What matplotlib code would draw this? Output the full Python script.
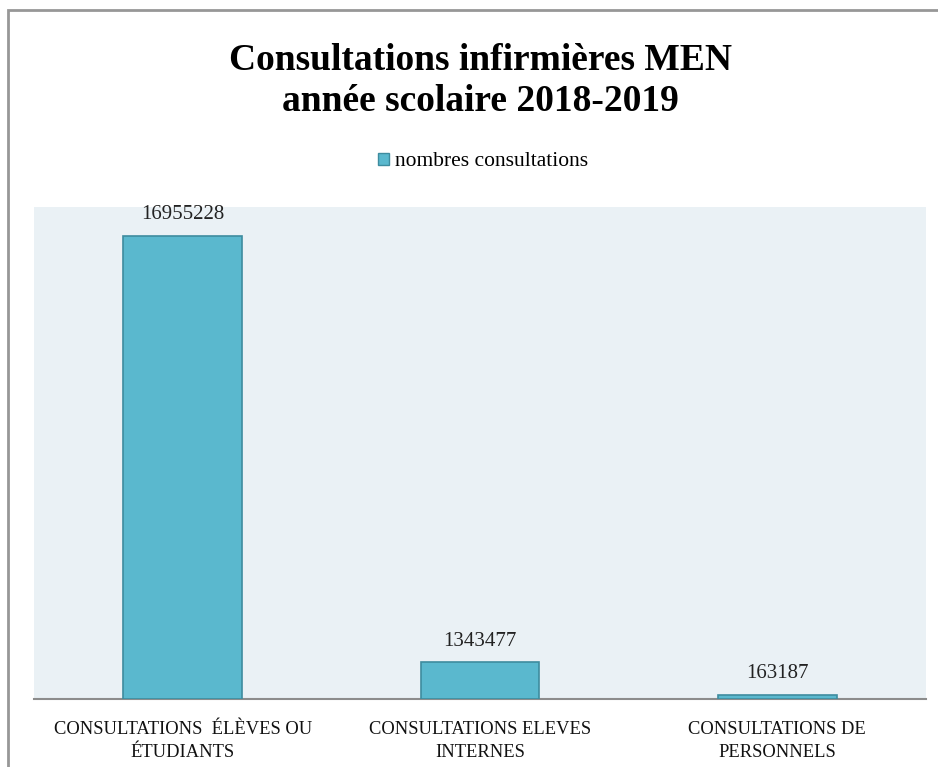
import matplotlib
matplotlib.use("Agg")
import matplotlib.pyplot as plt
from matplotlib.patches import Rectangle, Patch

categories = ["CONSULTATIONS  ÉLÈVES OU\nÉTUDIANTS",
              "CONSULTATIONS ELEVES\nINTERNES",
              "CONSULTATIONS DE\nPERSONNELS"]
values = [16955228, 1343477, 163187]
series_name = "nombres consultations"
title = "Consultations infirmières MEN\nannée scolaire 2018-2019"

W, H = 938, 767
fig = plt.figure(figsize=(W / 100, H / 100), dpi=100)
fig.patch.set_facecolor("white")

# outer frame (continues past the right and bottom edges)
fig.add_artist(Rectangle((8 / W, -0.1), 1.2, (H - 10) / H + 0.1,
                         transform=fig.transFigure, fill=False,
                         edgecolor="#979797", linewidth=2))

ax = fig.add_axes([34 / W, (H - 699) / H, 892 / W, 492 / H])
ax.set_facecolor("#EAF1F5")

bar_color = "#5AB8CE"
edge_color = "#3E8C9F"
x = range(len(categories))
bars = ax.bar(x, values, width=0.4, color=bar_color, edgecolor=edge_color,
              linewidth=1.2, zorder=3)

ax.set_xlim(-0.5, len(categories) - 0.5)
ax.set_ylim(0, 18000000)
ax.set_yticks([])
for s in ["top", "right", "left"]:
    ax.spines[s].set_visible(False)
ax.spines["bottom"].set_color("#8C8C8C")
ax.spines["bottom"].set_linewidth(1.5)

ax.set_xticks(list(x))
ax.set_xticklabels(categories, fontfamily="Liberation Serif", fontsize=13.3,
                   linespacing=1.45, color="#111111")
ax.tick_params(axis="x", length=0, pad=16)

for b, v in zip(bars, values):
    ax.annotate(f"{v}", (b.get_x() + b.get_width() / 2, v),
                xytext=(0, 8), textcoords="offset points",
                ha="center", va="bottom", fontfamily="Liberation Serif",
                fontsize=15, color="#222222")

fig.text(480 / W, 1 - 81 / H, title, ha="center", va="center",
         fontfamily="Liberation Serif", fontweight="bold", fontsize=27,
         linespacing=1.24, color="black")

handle = Patch(facecolor=bar_color, edgecolor=edge_color, linewidth=1)
fig.legend([handle], [series_name], loc="center",
           bbox_to_anchor=(483 / W, 1 - 162 / H), frameon=False,
           prop={"family": "Liberation Serif", "size": 15.5},
           handlelength=0.5, handleheight=0.5, handletextpad=0.25)

fig.savefig("out.png", dpi=100, facecolor="white")
